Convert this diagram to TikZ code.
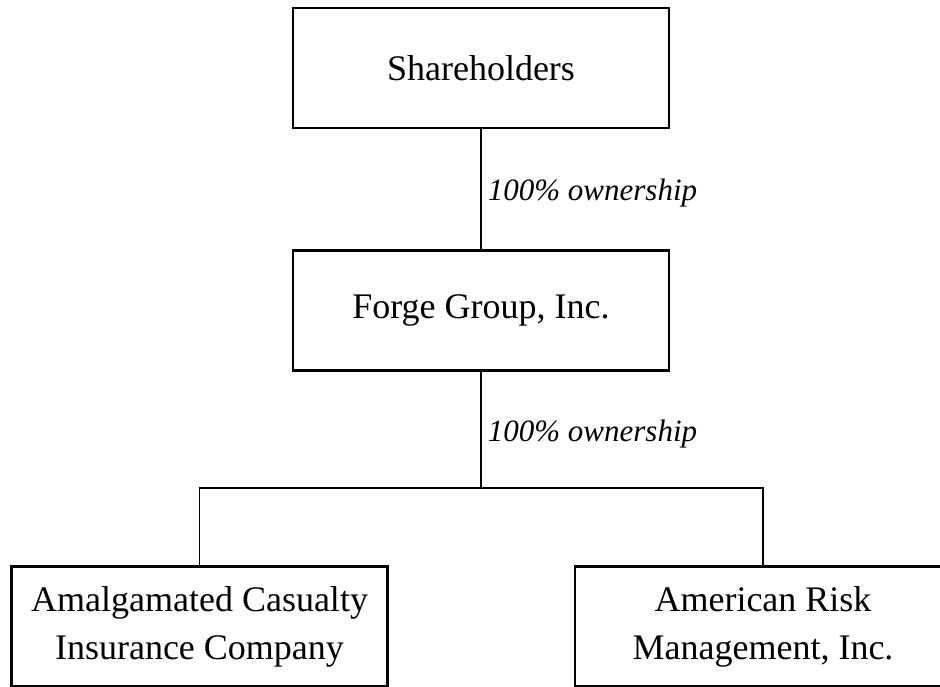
\documentclass[tikz,border=0pt]{standalone}
\usepackage{fontspec}
\setmainfont{Liberation Serif}
\usetikzlibrary{positioning}

\begin{document}
\begin{tikzpicture}[
  x=1pt, y=1pt,
  font=\fontsize{36}{48}\selectfont,
  node distance=120pt,
  entity/.style={draw, line width=2.6pt, minimum width=376pt, minimum height=120pt, inner sep=0pt, align=center},
  link/.style={line width=1.8pt},
  share/.style={font=\fontsize{31}{37}\selectfont\itshape, inner sep=0pt, yshift=-4pt}
]
\useasboundingbox (0,0) rectangle (940,687);

\node[entity] at (481,619) (holders) {Shareholders};
\node[entity, below=of holders] (forge) {Forge Group, Inc.};
\node[entity] at (199.5,60.5) (acic) {Amalgamated Casualty\\Insurance Company};
\node[entity] at (763,60.5) (arm) {American Risk\\Management, Inc.};
\coordinate (split) at (481,199);

\draw[link] (holders) -- (forge) node[share, midway, right=6pt] {100\% ownership};
\draw[link] (forge) -- (split) node[share, midway, right=6pt] {100\% ownership};
\draw[link] (acic.north) |- (split) -| (arm.north);
\end{tikzpicture}
\end{document}
